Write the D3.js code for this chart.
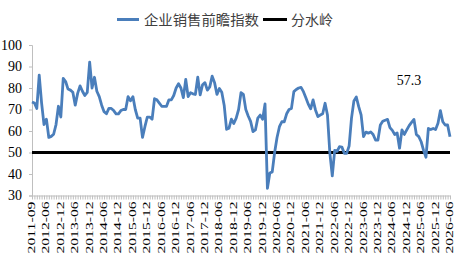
<!DOCTYPE html>
<html>
<head>
<meta charset="utf-8">
<script src="https://cdn.jsdelivr.net/npm/d3@7/dist/d3.min.js"></script>
<style>
  html, body { margin: 0; padding: 0; background: #fff; }
  svg { display: block; }
</style>
</head>
<body>
<svg id="chart" width="454" height="266"></svg>
<script>
// ---- data ----
const seriesName = "企业销售前瞻指数";
const lineName = "分水岭";
const threshold = 50;
const lastLabel = "57.3";

// monthly categories: 2011-09, then 2012-01 .. 2026-06
const categories = ["2011-09"];
for (let yr = 2012; yr <= 2026; yr++) {
  for (let m = 1; m <= 12; m++) {
    if (yr === 2026 && m > 6) break;
    categories.push(yr + "-" + String(m).padStart(2, "0"));
  }
}

const values = [
  73.5, 73, 70.5, 86, 73, 63, 65.5, 57, 57.5, 58.5,
  63, 71.5, 66.5, 84.5, 83, 79.5, 79, 78, 72, 77.5,
  81, 78.5, 76.5, 78, 92, 80, 85, 78.5, 76, 72,
  69, 68, 70.5, 70.5, 69.5, 68, 68, 69.5, 70, 70,
  76, 74, 76, 70, 66, 66, 57, 62, 66.5, 66.5,
  65.5, 75, 74.5, 73, 71.5, 71.5, 71.5, 74.5, 74.5, 76.5,
  80, 82, 80, 75.5, 84, 76, 77.8, 77.3, 77, 85,
  76.8, 81.5, 82.5, 79, 80.5, 85.5, 82.5, 77, 79.8, 78,
  72, 60.8, 61.3, 65.5, 63.5, 66, 70, 77.8, 77, 70,
  67, 64.5, 59.7, 60.5, 66, 67.4, 65.5, 72.6, 33.3, 40.5,
  41, 50, 57, 62, 64.3, 64.3, 68, 70, 70.5, 78.3,
  79.3, 80, 80.3, 78.3, 75.5, 72.5, 70.3, 74.5, 69.8, 66.7,
  67.4, 68, 72.9, 67.4, 49.6, 39.1, 51, 50.5, 52.7, 52.5,
  49.6, 49.6, 53, 66, 74, 75.8, 71.3, 67.5, 57.4, 59.5,
  59, 59.6, 58.4, 55.8, 55.8, 62.8, 64.5, 65, 65.4, 61.6,
  60.3, 58.4, 59.1, 52, 60.5, 58.4, 60.5, 62.5, 64, 65.4,
  58.4, 57.4, 55, 51, 47.8, 61.2, 60.7, 61.2, 60.7, 63.6,
  69.5, 64.3, 62.8, 62.8, 57.3
];

const tickLabels = [
  "2011-09","2012-06","2012-12","2013-06","2013-12","2014-06","2014-12",
  "2015-06","2015-12","2016-06","2016-12","2017-06","2017-12","2018-06",
  "2018-12","2019-06","2019-12","2020-06","2020-12","2021-06","2021-12",
  "2022-06","2022-12","2023-06","2023-12","2024-06","2024-12","2025-06",
  "2025-12","2026-06"
];
const yTicks = [30, 40, 50, 60, 70, 80, 90, 100];

// ---- layout ----
const svg = d3.select("#chart");
const mLeft = 32, mRight = 450, mTop = 45, mBottom = 195.5;
const blue = "#4a7ebb";

const x = d3.scalePoint().domain(categories).range([mLeft, mRight]);
const y = d3.scaleLinear().domain([30, 100]).range([mBottom, mTop]);

// y axis
const yAxis = svg.append("g")
  .attr("transform", `translate(${mLeft},0)`)
  .call(d3.axisLeft(y).tickValues(yTicks).tickSize(3).tickPadding(7).tickFormat(d3.format("d")));
yAxis.select(".domain").attr("stroke", "#bfbfbf");
yAxis.selectAll(".tick line").attr("stroke", "#bfbfbf");
yAxis.selectAll("text")
  .attr("font-family", "Liberation Serif, Times New Roman, serif")
  .attr("font-size", 14)
  .attr("fill", "#000");

// x axis
const xAxis = svg.append("g")
  .attr("transform", `translate(0,${mBottom})`)
  .call(d3.axisBottom(x).tickSize(4).tickSizeOuter(0).tickFormat(""));
xAxis.select(".domain").attr("stroke", "#bfbfbf");
xAxis.selectAll(".tick line").attr("stroke", "#bfbfbf");

svg.append("g").selectAll("text")
  .data(tickLabels)
  .join("text")
  .attr("transform", d => `translate(${x(d) + 3},${mBottom + 6}) rotate(-90)`)
  .attr("text-anchor", "end")
  .attr("font-family", "Liberation Serif, Times New Roman, serif")
  .attr("font-size", 11)
  .attr("textLength", 52)
  .attr("lengthAdjust", "spacingAndGlyphs")
  .attr("fill", "#000")
  .text(d => d);

// threshold line
svg.append("line")
  .attr("x1", mLeft).attr("x2", mRight)
  .attr("y1", y(threshold)).attr("y2", y(threshold))
  .attr("stroke", "#000").attr("stroke-width", 3);

// series line
const line = d3.line()
  .x((d, i) => x(categories[i]))
  .y(d => y(d));
svg.append("path")
  .datum(values)
  .attr("d", line)
  .attr("fill", "none")
  .attr("stroke", blue)
  .attr("stroke-width", 2.8)
  .attr("stroke-linejoin", "round");

// annotation
svg.append("text")
  .attr("x", 409).attr("y", 84.5)
  .attr("text-anchor", "middle")
  .attr("font-family", "Liberation Serif, Times New Roman, serif")
  .attr("font-size", 14)
  .attr("fill", "#000")
  .text(lastLabel);

// legend
const lg = svg.append("g");
lg.append("line").attr("x1", 117).attr("x2", 139).attr("y1", 19.5).attr("y2", 19.5)
  .attr("stroke", blue).attr("stroke-width", 3);
lg.append("text").attr("x", 144).attr("y", 25)
  .attr("font-family", "Noto Sans CJK SC, sans-serif").attr("font-size", 14)
  .attr("textLength", 115).attr("lengthAdjust", "spacingAndGlyphs")
  .attr("fill", "#404040").text(seriesName);
lg.append("line").attr("x1", 263).attr("x2", 287).attr("y1", 19.5).attr("y2", 19.5)
  .attr("stroke", "#000").attr("stroke-width", 3);
lg.append("text").attr("x", 291).attr("y", 25)
  .attr("font-family", "Noto Sans CJK SC, sans-serif").attr("font-size", 14)
  .attr("textLength", 42).attr("lengthAdjust", "spacingAndGlyphs")
  .attr("fill", "#404040").text(lineName);
</script>
</body>
</html>
